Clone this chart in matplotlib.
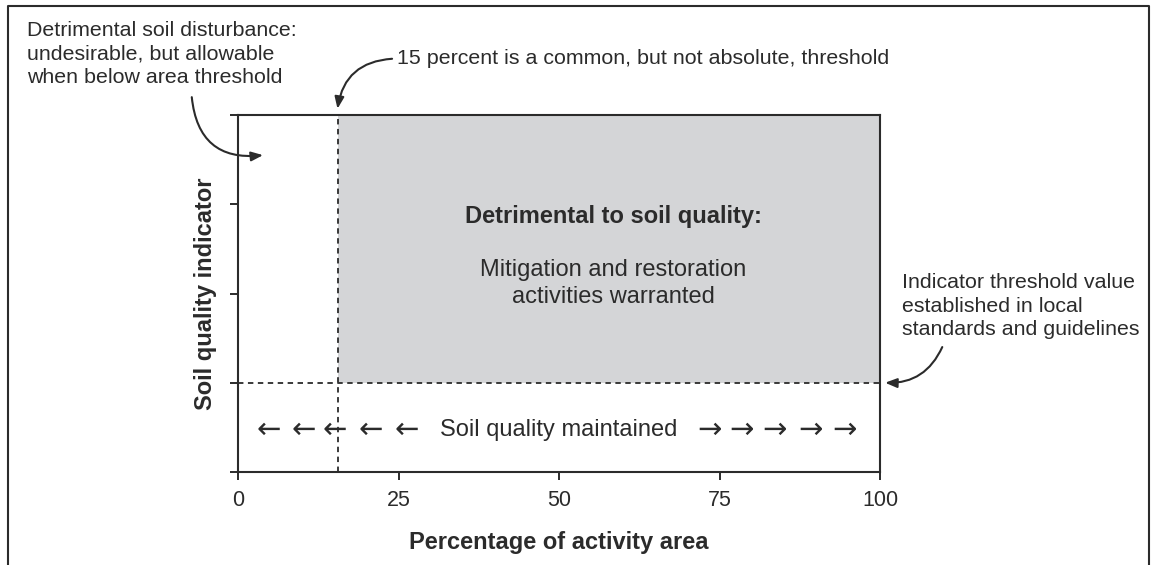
import numpy as np
import matplotlib
matplotlib.use('Agg')
from matplotlib import pyplot as plt
from matplotlib.patches import Rectangle
from matplotlib.lines import Line2D

# chart values
x_ticks = [0, 25, 50, 75, 100]
y_ticks = [0, 1, 2, 3, 4]
area_threshold = 15.5      # percent of activity area
indicator_threshold = 1.0  # indicator threshold value
left_arrows_x = [4.8, 10.3, 15.1, 20.6, 26.3]
right_arrows_x = [73.4, 78.5, 83.6, 89.1, 94.5]
maintained_y = 0.47

FONT = ['Liberation Sans', 'DejaVu Sans']
plt.rcParams['font.family'] = FONT
DARK = '#2b2b2b'
W, H = 1152, 565

fig = plt.figure(figsize=(11.52, 5.65), dpi=100)
ax = fig.add_axes([238 / W, 93 / H, 642 / W, 357 / H])
ax.set_xlim(x_ticks[0], x_ticks[-1])
ax.set_ylim(y_ticks[0], y_ticks[-1])

# shaded detrimental zone
ax.add_patch(Rectangle((area_threshold, indicator_threshold),
                       x_ticks[-1] - area_threshold, y_ticks[-1] - indicator_threshold,
                       facecolor='#d4d5d7', edgecolor='none', zorder=0))
ax.plot([area_threshold, area_threshold], [y_ticks[0], y_ticks[-1]], color=DARK,
        lw=1.3, linestyle=(0, (3, 2.5)))
ax.plot([x_ticks[0], x_ticks[-1]], [indicator_threshold, indicator_threshold], color=DARK,
        lw=1.3, linestyle=(0, (3, 2.5)))

for s in ax.spines.values():
    s.set_linewidth(1.5)
    s.set_color(DARK)

ax.set_xticks(x_ticks)
ax.set_xticklabels([str(t) for t in x_ticks], fontsize=15.5, color=DARK)
ax.set_yticks(y_ticks)
ax.set_yticklabels([])
ax.tick_params(axis='both', direction='out', length=6, width=1.4, color=DARK, pad=7)

ax.set_xlabel('Percentage of activity area', fontsize=17, fontweight='bold', color=DARK, labelpad=14)
ax.set_ylabel('Soil quality indicator', fontsize=17, fontweight='bold', color=DARK, labelpad=2)

# text inside the chart
ax.text(58.5, (472 - 217) / 89.25, 'Detrimental to soil quality:', ha='center', va='center',
        fontsize=17, fontweight='bold', color=DARK)
ax.text(58.5, (472 - 283.5) / 89.25, 'Mitigation and restoration\nactivities warranted',
        ha='center', va='center', fontsize=17, color=DARK, linespacing=1.25)
ax.text(50.0, maintained_y, 'Soil quality maintained', ha='center', va='center',
        fontsize=17, color=DARK)
for x in left_arrows_x:
    ax.text(x, maintained_y, '\u2190', ha='center', va='center', fontsize=21,
            family=['DejaVu Sans'], color=DARK)
for x in right_arrows_x:
    ax.text(x, maintained_y, '\u2192', ha='center', va='center', fontsize=21,
            family=['DejaVu Sans'], color=DARK)

# notes outside the chart
fig.text(27 / W, 1 - 54 / H,
         'Detrimental soil disturbance:\nundesirable, but allowable\nwhen below area threshold',
         ha='left', va='center', fontsize=15.4, color=DARK, linespacing=1.32)
fig.text(397 / W, 1 - 59 / H, '15 percent is a common, but not absolute, threshold',
         ha='left', va='center', fontsize=15.4, color=DARK)
fig.text(902 / W, 1 - 306 / H,
         'Indicator threshold value\nestablished in local\nstandards and guidelines',
         ha='left', va='center', fontsize=15.4, color=DARK, linespacing=1.32)

aprops = dict(arrowstyle='-|>,head_length=0.7,head_width=0.28', color=DARK, lw=1.5,
              shrinkA=0, shrinkB=0)
ax.annotate('', xy=(3.9, 3.55), xytext=(-7.2, 4.2), annotation_clip=False,
            arrowprops=dict(aprops, connectionstyle='arc3,rad=0.5'))
ax.annotate('', xy=(area_threshold, 4.07), xytext=(24.0, 4.63), annotation_clip=False,
            arrowprops=dict(aprops, connectionstyle='arc3,rad=0.4'))
ax.annotate('', xy=(100.8, indicator_threshold), xytext=(109.7, 1.40), annotation_clip=False,
            arrowprops=dict(aprops, connectionstyle='arc3,rad=-0.33'))

# outer frame of the figure
fx0, fx1, fy1 = 8 / W, 1149 / W, 1 - 6 / H
fig.add_artist(Line2D([fx0, fx0, fx1, fx1], [0, fy1, fy1, 0], transform=fig.transFigure,
                      color=DARK, lw=1.5))

fig.savefig('out.png', dpi=100)
